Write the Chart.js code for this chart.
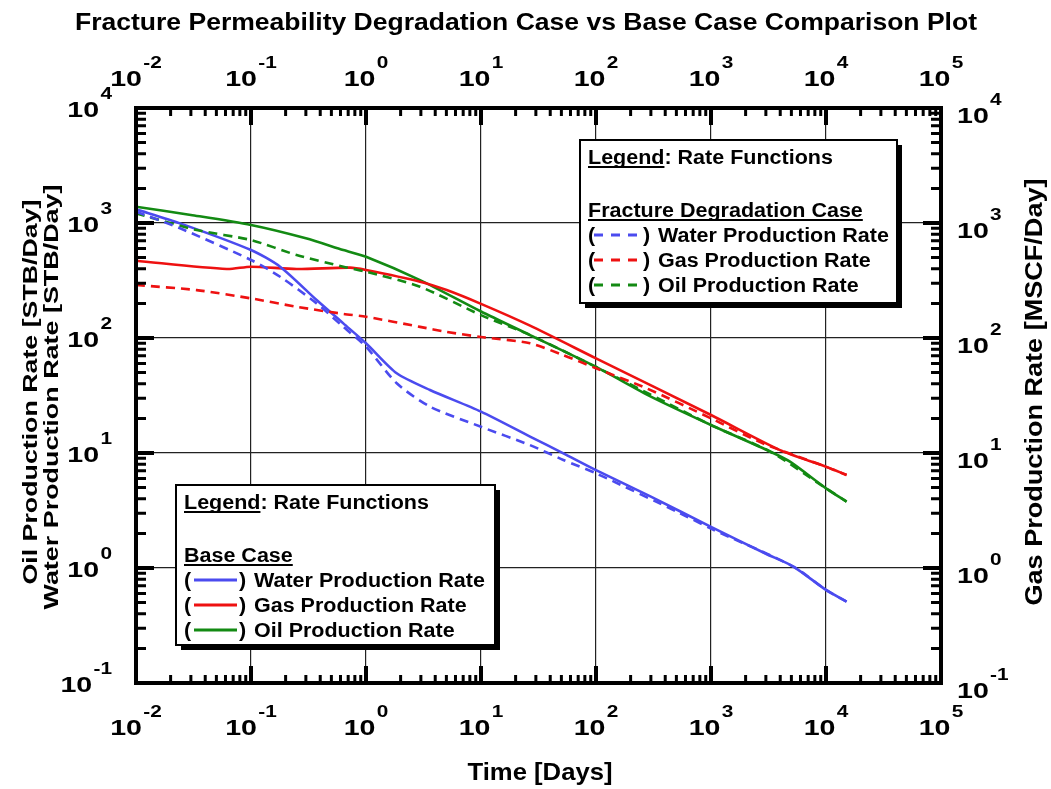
<!DOCTYPE html>
<html>
<head>
<meta charset="utf-8">
<title>Fracture Permeability Degradation Case vs Base Case Comparison Plot</title>
<script src="https://cdn.jsdelivr.net/npm/chart.js@4.4.1/dist/chart.umd.min.js"></script>
<style>
    body { margin: 0; background: #fff; }
    canvas { display: block; }
</style>
</head>
<body>
<canvas id="rateChart" width="1051" height="789"></canvas>
<script>
// 軸刻度 (decades)
const timeDecades = [0.01, 0.1, 1, 10, 100, 1000, 10000, 100000];
const timeExps = ['-2', '-1', '0', '1', '2', '3', '4', '5'];
const rateDecades = [0.1, 1, 10, 100, 1000, 10000];
const rateExps = ['-1', '0', '1', '2', '3', '4'];

// Base case (solid)
const baseWaterT = [0.01, 0.0242, 0.1, 0.179, 0.372, 0.635, 1, 1.85, 3.6, 10, 26.7, 52, 100, 300, 1000, 3000, 5200, 10000, 15100];
const baseWaterQ = [1315, 993, 582, 417, 214, 134, 90, 49.3, 35.3, 22.9, 13.9, 9.94, 7.1, 4.17, 2.28, 1.33, 1.03, 0.645, 0.51];
const baseGasT = [0.01, 0.0615, 0.1, 0.249, 0.726, 1, 2.95, 5.03, 10, 26.7, 100, 1000, 3980, 10000, 15100];
const baseGasQ = [470, 398, 417, 398, 409, 390, 309, 261, 198, 128, 66.5, 21.4, 10.6, 7.6, 6.44];
const baseOilT = [0.01, 0.03, 0.1, 0.3, 0.635, 1, 2.95, 10, 26.7, 100, 300, 1000, 3260, 4860, 10000, 15100];
const baseOilQ = [1387, 1175, 961, 736, 582, 509, 319, 170, 106, 56, 30.9, 17.5, 10.3, 8.4, 4.93, 3.78];

// Fracture degradation case (dashed)
const degWaterT = [0.01, 0.0242, 0.1, 0.179, 0.372, 0.635, 1, 1.85, 3.6, 10, 26.7, 52, 100, 537, 1000, 5200, 10000, 15100];
const degWaterQ = [1254, 899, 477, 341, 200, 125, 84, 40.4, 25.3, 16.9, 11.7, 8.7, 6.66, 3.0, 2.2, 1.03, 0.645, 0.51];
const degGasT = [0.01, 0.0337, 0.1, 0.249, 0.635, 1, 2.95, 5.03, 10, 26.7, 52, 100, 276, 1000, 2850, 10000, 15100];
const degGasQ = [289, 261, 221, 187, 162, 153, 125, 113, 102, 90, 71, 54.5, 36.5, 20, 12.1, 7.6, 6.44];
const degOilT = [0.01, 0.0337, 0.1, 0.249, 0.635, 1, 2.95, 10, 26.7, 100, 1000, 3260, 10000, 15100];
const degOilQ = [1213, 869, 711, 527, 417, 377, 279, 158, 106, 56, 17.5, 10.3, 4.93, 3.78];

const legendNames = ['Water Production Rate', 'Gas Production Rate', 'Oil Production Rate'];

const FONT = '"Liberation Sans", Arial, sans-serif';
const BLUE = '#4b4bef';
const RED = '#ee1111';
const GREEN = '#138a13';
const DASH = [9, 6];

function pts(t, q) {
    return t.map((v, i) => ({ x: v, y: q[i] }));
}

function lineSet(label, t, q, color, dashed) {
    return {
        label: label,
        data: pts(t, q),
        borderColor: color,
        backgroundColor: color,
        borderWidth: 2.6,
        borderDash: dashed ? DASH : [],
        pointRadius: 0,
        tension: 0.25,
        fill: false
    };
}

// 文字 (可水平拉伸)
function text(ctx, txt, x, y, px, opt) {
    opt = opt || {};
    ctx.save();
    ctx.font = 'bold ' + px + 'px ' + FONT;
    const w = ctx.measureText(txt).width;
    const sx = opt.width ? opt.width / w : (opt.sx || 1);
    ctx.translate(x, y);
    if (opt.rot) ctx.rotate(opt.rot);
    ctx.scale(sx, 1);
    ctx.textAlign = opt.align || 'left';
    ctx.textBaseline = 'alphabetic';
    ctx.fillStyle = '#000';
    ctx.fillText(txt, 0, 0);
    ctx.restore();
    return w * sx;
}

// 10^n 標籤
function pow10(ctx, exp, x, y, align) {
    const S = 1.3;
    ctx.save();
    ctx.font = 'bold 22px ' + FONT;
    const w1 = ctx.measureText('10').width;
    ctx.font = 'bold 16px ' + FONT;
    const w2 = ctx.measureText(exp).width;
    const total = (w1 + 1 + w2) * S;
    let x0 = x;
    if (align === 'center') x0 = x - total / 2;
    if (align === 'right') x0 = x - total;
    ctx.translate(x0, y);
    ctx.scale(S, 1);
    ctx.fillStyle = '#000';
    ctx.textAlign = 'left';
    ctx.textBaseline = 'alphabetic';
    ctx.font = 'bold 22px ' + FONT;
    ctx.fillText('10', 0, 0);
    ctx.font = 'bold 16px ' + FONT;
    ctx.fillText(exp, w1 + 1, -18);
    ctx.restore();
}

function legendBox(ctx, box, heading, colors, dashed) {
    const LSX = 1.075;
    ctx.save();
    ctx.fillStyle = '#000';
    ctx.fillRect(box.x + 5, box.y + 5, box.w, box.h);
    ctx.fillStyle = '#fff';
    ctx.fillRect(box.x, box.y, box.w, box.h);
    ctx.lineWidth = 2;
    ctx.strokeStyle = '#000';
    ctx.strokeRect(box.x, box.y, box.w, box.h);
    ctx.fillStyle = '#000';

    const tx = box.x + 8;
    let y = box.y + 24;
    const wLeg = text(ctx, 'Legend', tx, y, 20, { sx: LSX });
    text(ctx, ': Rate Functions', tx + wLeg, y, 20, { sx: LSX });
    ctx.fillRect(tx, y + 2, wLeg, 2);

    y += 53;
    const wHead = text(ctx, heading, tx, y, 20, { sx: LSX });
    ctx.fillRect(tx, y + 2, wHead, 2);

    colors.forEach((c, i) => {
        y += 25;
        text(ctx, '(', tx, y, 20, { sx: LSX });
        ctx.save();
        ctx.strokeStyle = c;
        ctx.lineWidth = 3;
        if (dashed) ctx.setLineDash([9, 8]);
        ctx.beginPath();
        ctx.moveTo(tx + (dashed ? 6 : 10), y - 7);
        ctx.lineTo(tx + (dashed ? 51 : 53), y - 7);
        ctx.stroke();
        ctx.restore();
        text(ctx, ')', tx + 55, y, 20, { sx: LSX });
        text(ctx, legendNames[i], tx + 70, y, 20, { sx: LSX });
    });
    ctx.restore();
}

const framePlugin = {
    id: 'frame',
    afterDraw(chart) {
        const ctx = chart.ctx;
        const a = chart.chartArea;
        const xs = chart.scales.x;
        const ys = chart.scales.y;

        ctx.save();
        ctx.strokeStyle = '#000';
        ctx.fillStyle = '#000';

        // 刻度線
        ctx.lineCap = 'butt';
        for (let n = -2; n <= 4; n++) {
            for (let k = 1; k <= 9; k++) {
                const v = k * Math.pow(10, n);
                const major = k === 1;
                const px = xs.getPixelForValue(v);
                ctx.lineWidth = major ? 4 : 3;
                const L = major ? 17 : 8;
                ctx.beginPath();
                ctx.moveTo(px, a.bottom); ctx.lineTo(px, a.bottom - L);
                ctx.moveTo(px, a.top); ctx.lineTo(px, a.top + L);
                ctx.stroke();
            }
        }
        for (let n = -1; n <= 3; n++) {
            for (let k = 1; k <= 9; k++) {
                const v = k * Math.pow(10, n);
                const major = k === 1;
                const py = ys.getPixelForValue(v);
                ctx.lineWidth = major ? 4 : 3;
                const L = major ? 18 : 10;
                ctx.beginPath();
                ctx.moveTo(a.left, py); ctx.lineTo(a.left + L, py);
                ctx.moveTo(a.right, py); ctx.lineTo(a.right - L, py);
                ctx.stroke();
            }
        }
        ctx.lineWidth = 4;
        ctx.strokeRect(a.left, a.top, a.right - a.left, a.bottom - a.top);

        // 刻度標籤
        timeDecades.forEach((v, i) => {
            const px = xs.getPixelForValue(v);
            pow10(ctx, timeExps[i], px, a.bottom + 52, 'center');
            pow10(ctx, timeExps[i], px, a.top - 22, 'center');
        });
        rateDecades.forEach((v, i) => {
            const py = ys.getPixelForValue(v);
            pow10(ctx, rateExps[i], a.left - 24, py + 9, 'right');
            pow10(ctx, rateExps[i], a.right + 16, py + 15, 'left');
        });

        // 標題
        text(ctx, 'Fracture Permeability Degradation Case vs Base Case Comparison Plot', 526, 30, 24, { width: 902, align: 'center' });
        text(ctx, 'Time [Days]', 540, 780, 24, { width: 145, align: 'center' });
        text(ctx, 'Oil Production Rate [STB/Day]', 37, 392, 21, { width: 385, align: 'center', rot: -Math.PI / 2 });
        text(ctx, 'Water Production Rate [STB/Day]', 58, 397, 21, { width: 425, align: 'center', rot: -Math.PI / 2 });
        text(ctx, 'Gas Production Rate [MSCF/Day]', 1042, 392, 23, { width: 427, align: 'center', rot: -Math.PI / 2 });

        // 圖例
        legendBox(ctx, { x: 580, y: 140, w: 317, h: 163 }, 'Fracture Degradation Case', [BLUE, RED, GREEN], true);
        legendBox(ctx, { x: 176, y: 485, w: 319, h: 160 }, 'Base Case', [BLUE, RED, GREEN], false);

        ctx.restore();
    }
};

const gridOpts = {
    color: '#222',
    lineWidth: 1.2,
    drawTicks: false
};

const rateChart = new Chart(document.getElementById('rateChart'), {
    type: 'line',
    data: {
        datasets: [
            lineSet('Water (degradation)', degWaterT, degWaterQ, BLUE, true),
            lineSet('Gas (degradation)', degGasT, degGasQ, RED, true),
            lineSet('Oil (degradation)', degOilT, degOilQ, GREEN, true),
            lineSet('Water (base)', baseWaterT, baseWaterQ, BLUE, false),
            lineSet('Gas (base)', baseGasT, baseGasQ, RED, false),
            lineSet('Oil (base)', baseOilT, baseOilQ, GREEN, false)
        ]
    },
    options: {
        responsive: false,
        animation: false,
        layout: {
            padding: { left: 136, top: 108, right: 110, bottom: 106 }
        },
        plugins: {
            legend: { display: false },
            tooltip: { enabled: false }
        },
        scales: {
            x: {
                type: 'logarithmic',
                position: 'bottom',
                min: 0.01,
                max: 100000,
                afterBuildTicks: s => { s.ticks = timeDecades.map(v => ({ value: v })); },
                afterFit: s => { s.height = 0; },
                ticks: { display: false },
                grid: gridOpts,
                border: { display: false }
            },
            y: {
                type: 'logarithmic',
                position: 'left',
                min: 0.1,
                max: 10000,
                afterBuildTicks: s => { s.ticks = rateDecades.map(v => ({ value: v })); },
                afterFit: s => { s.width = 0; },
                ticks: { display: false },
                grid: gridOpts,
                border: { display: false }
            }
        }
    },
    plugins: [framePlugin]
});
</script>
</body>
</html>
